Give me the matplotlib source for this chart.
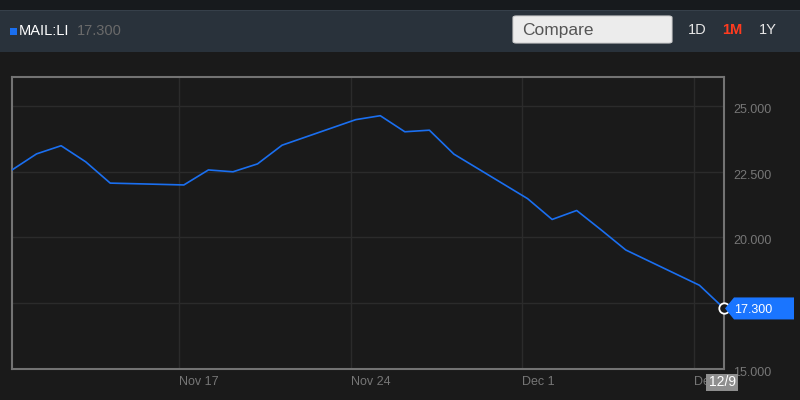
import datetime as dt
import matplotlib
matplotlib.use("Agg")
import matplotlib.pyplot as plt
import matplotlib.dates as mdates
from matplotlib.patches import Rectangle, Polygon, FancyBboxPatch
from matplotlib.transforms import IdentityTransform, offset_copy, blended_transform_factory

plt.rcParams['font.family'] = ['Liberation Sans', 'DejaVu Sans']

# Data
dates = ["2014-11-10", "2014-11-11", "2014-11-12", "2014-11-13", "2014-11-14",
         "2014-11-17", "2014-11-18", "2014-11-19", "2014-11-20", "2014-11-21",
         "2014-11-24", "2014-11-25", "2014-11-26", "2014-11-27", "2014-11-28",
         "2014-12-01", "2014-12-02", "2014-12-03", "2014-12-04", "2014-12-05",
         "2014-12-08", "2014-12-09"]
prices = [22.56, 23.17, 23.48, 22.87, 22.06,
          21.99, 22.56, 22.49, 22.79, 23.50,
          24.47, 24.62, 24.01, 24.07, 23.16,
          21.47, 20.68, 21.02, 20.28, 19.52,
          18.18, 17.30]
ticker = "MAIL:LI"
ytick_vals = [15.0, 17.5, 20.0, 22.5, 25.0]
xtick_dates = ["2014-11-17", "2014-11-24", "2014-12-01", "2014-12-08"]
xtick_labels = ["Nov 17", "Nov 24", "Dec 1", "Dec 8"]
ranges = ["1D", "1M", "1Y"]

BG = "#1a1a1a"
HEADER = "#29323b"
LINE = "#1a6ff0"
GRID = "#2b2b2b"
LABEL = "#767676"

x = [dt.datetime.strptime(d, "%Y-%m-%d") + dt.timedelta(hours=5) for d in dates]
xt = [dt.datetime.strptime(d, "%Y-%m-%d") for d in xtick_dates]

fig = plt.figure(figsize=(8, 4), dpi=100, facecolor=BG)
W, H = 800, 400

def fy(ypix):
    return 1 - ypix / H

# header bars
fig.patches.append(Rectangle((0, fy(10)), 1, 10 / H, transform=fig.transFigure,
                             facecolor="#171a1d", edgecolor="none", zorder=0))
fig.patches.append(Rectangle((0, fy(52)), 1, 42 / H, transform=fig.transFigure,
                             facecolor=HEADER, edgecolor="none", zorder=0))
fig.patches.append(Rectangle((0, fy(11)), 1, 1 / H, transform=fig.transFigure,
                             facecolor="#36404a", edgecolor="none", zorder=1))

# ticker legend
fig.patches.append(Rectangle((10 / W, fy(35)), 7 / W, 7 / H, transform=fig.transFigure,
                             facecolor=LINE, edgecolor="none", zorder=2))
fig.text(19 / W, fy(31), ticker, color="white", fontsize=10.5, va="center", ha="left")
fig.text(77 / W, fy(31), f"{prices[-1]:.3f}", color="#6a6a6a", fontsize=10.5,
         va="center", ha="left")

# compare box
fig.patches.append(FancyBboxPatch((513 / W, fy(43)), 159 / W, 27 / H,
                                  boxstyle="round,pad=0,rounding_size=0.004",
                                  transform=fig.transFigure, facecolor="#ececec",
                                  edgecolor="#d0d0d0", linewidth=0.8, zorder=2))
fig.text(522 / W, fy(30), "Compare", color="#555555", fontsize=12.5, va="center", ha="left")

for lab, xp in zip(ranges, [688, 722, 759]):
    red = lab == "1M"
    fig.text(xp / W, fy(30), lab, color="#ff3b1f" if red else "#e6e6e6",
             fontsize=10.5, fontweight="bold" if red else "normal", va="center", ha="left")

# main axes
ax = fig.add_axes([12 / W, 1 - 369 / H, (724 - 12) / W, (369 - 77) / H], facecolor=BG)
ax.plot(x, prices, color=LINE, linewidth=1.2, zorder=3)
ax.plot(x[-1], prices[-1], "o", markersize=7.5, markerfacecolor=BG,
        markeredgecolor="white", markeredgewidth=1.3, zorder=4, clip_on=False)

ax.set_xlim(x[0], x[-1])
ax.set_ylim(15.11, 26.09)

ax.set_yticks(ytick_vals)
ax.set_xticks(xt)
ax.set_xticklabels(xtick_labels, ha="left")
ax.tick_params(axis="x", length=0, pad=5, labelcolor=LABEL, labelsize=9)
ax.tick_params(axis="y", length=0, labelleft=False, labelright=False)
ax.grid(True, color=GRID, linewidth=1)
ax.set_axisbelow(True)
for s in ax.spines.values():
    s.set_color("#737373")
    s.set_linewidth(1.5)

# y labels to the right, a little below the gridline (the one under the price tag is hidden)
ytr = offset_copy(blended_transform_factory(ax.transAxes, ax.transData),
                  fig=fig, x=9, y=-4, units="dots")
for v in ytick_vals:
    if abs(v - prices[-1]) < 0.5:
        continue
    ax.text(1.0, v, f"{v:.3f}", transform=ytr, color=LABEL, fontsize=9,
            ha="left", va="center", clip_on=False, zorder=1)

# price tag at last point
fig.canvas.draw()
px, py = ax.transData.transform((mdates.date2num(x[-1]), prices[-1]))
tag = Polygon([(px + 1, py), (px + 10, py + 11), (794, py + 11),
               (794, py - 11), (px + 10, py - 11)], closed=True,
              transform=IdentityTransform(), facecolor="#1a75ff", edgecolor="none", zorder=10)
fig.patches.append(tag)
fig.text((px + 10) / W, (py - 1.5) / H, f"{prices[-1]:.3f}", color="white", fontsize=9,
         ha="left", va="center", zorder=11)

# date tag under last point
bx0, by0 = ax.transAxes.transform((0, 0))
fig.patches.append(Rectangle((px - 18, by0 - 22), 32, 17, transform=IdentityTransform(),
                             facecolor="#8e8e8e", edgecolor="none", zorder=10))
last = dt.datetime.strptime(dates[-1], "%Y-%m-%d")
fig.text((px - 2) / W, (by0 - 13.5) / H, f"{last.month}/{last.day}", color="white",
         fontsize=10, ha="center", va="center", zorder=11)

fig.savefig("out.png", dpi=100, facecolor=BG)
